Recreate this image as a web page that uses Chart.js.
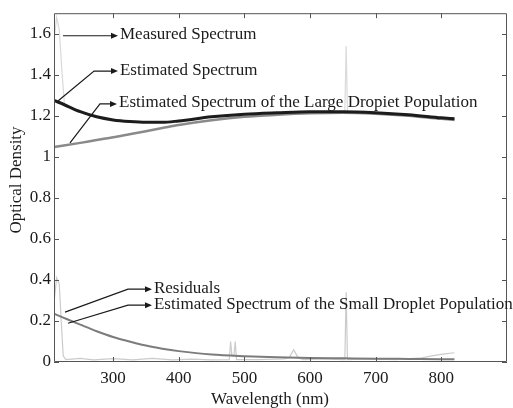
<!DOCTYPE html>
<html>
<head>
<meta charset="utf-8">
<script src="https://cdn.jsdelivr.net/npm/chart.js@4/dist/chart.umd.min.js"></script>
<style>
  html, body { margin: 0; padding: 0; background: #ffffff; }
  #plot { display: block; }
</style>
</head>
<body>
<canvas id="plot" width="513" height="408"></canvas>
<script>
// Wavelength grid (nm) for the smooth fitted curves
const wavelengths = [210, 225, 250, 275, 300, 325, 350, 375, 400, 450, 500, 550, 600, 650, 700, 750, 800, 820];
const estimated = [1.275, 1.255, 1.22, 1.195, 1.18, 1.172, 1.168, 1.168, 1.175, 1.195, 1.208, 1.215, 1.22, 1.22, 1.215, 1.205, 1.19, 1.185];
const largeDroplets = [1.048, 1.055, 1.068, 1.082, 1.095, 1.11, 1.125, 1.14, 1.155, 1.178, 1.195, 1.205, 1.212, 1.215, 1.21, 1.2, 1.185, 1.18];
const smallDroplets = [0.235, 0.215, 0.182, 0.15, 0.122, 0.1, 0.08, 0.065, 0.053, 0.036, 0.028, 0.023, 0.02, 0.018, 0.016, 0.015, 0.014, 0.014];

// Measured spectrum (nm, optical density)
const measuredNm = [210, 214, 218, 222, 226, 250, 275, 300, 325, 350, 375, 400, 450, 500, 550, 600, 650, 653, 655, 657, 700, 750, 800, 820];
const measured = [1.56, 1.68, 1.62, 1.42, 1.255, 1.222, 1.196, 1.181, 1.173, 1.168, 1.169, 1.176, 1.196, 1.209, 1.216, 1.221, 1.221, 1.22, 1.54, 1.22, 1.216, 1.206, 1.193, 1.19];

// Residuals (nm, optical density)
const residualNm = [210, 214, 218, 221, 224, 228, 250, 270, 300, 330, 360, 390, 420, 450, 477, 479, 481, 484, 486, 488, 520, 560, 568, 575, 582, 590, 620, 650, 653, 655, 657, 690, 730, 770, 790, 805, 820];
const residual = [0.29, 0.41, 0.38, 0.2, 0.03, 0.012, 0.018, 0.01, 0.016, 0.01, 0.018, 0.01, 0.014, 0.01, 0.012, 0.1, 0.03, 0.03, 0.1, 0.012, 0.012, 0.015, 0.02, 0.06, 0.02, 0.012, 0.015, 0.012, 0.012, 0.34, 0.012, 0.015, 0.012, 0.02, 0.032, 0.04, 0.045];

// Axis ticks
const xTicks = [300, 400, 500, 600, 700, 800];
const yTicks = [0, 0.2, 0.4, 0.6, 0.8, 1, 1.2, 1.4, 1.6];

// Callout labels: path in data units (nm, OD), arrow ends at the last point
const notes = [
  { text: 'Measured Spectrum', path: [[223.7, 1.59], [304.4, 1.59]] },
  { text: 'Estimated Spectrum', path: [[216, 1.272], [271, 1.418], [304.4, 1.418]] },
  { text: 'Estimated Spectrum of the Large Dropiet Population', path: [[234.4, 1.068], [280, 1.258], [302.9, 1.258]] },
  { text: 'Residuals', path: [[226.8, 0.243], [322.7, 0.355], [356.2, 0.355]] },
  { text: 'Estimated Spectrum of the Small Droplet Population', path: [[231.3, 0.189], [322.7, 0.277], [356.2, 0.277]] }
];

const SERIF = '"Liberation Serif", "Times New Roman", serif';
const FONT_SIZE = 17;
const pairs = (xs, ys) => xs.map((x, i) => ({ x: x, y: ys[i] }));

const frame = {
  id: 'frame',
  afterDraw(chart) {
    const ctx = chart.ctx;
    const a = chart.chartArea;
    const xs = chart.scales.x, ys = chart.scales.y;
    ctx.save();
    // box
    ctx.strokeStyle = '#555';
    ctx.lineWidth = 1;
    ctx.beginPath();
    ctx.moveTo(a.left + 0.5, a.top + 0.5);
    ctx.lineTo(a.right - 0.5, a.top + 0.5);
    ctx.lineTo(a.right - 0.5, a.bottom - 0.5);
    ctx.moveTo(a.left + 0.5, a.top + 0.5);
    ctx.lineTo(a.left + 0.5, a.bottom - 0.5);
    ctx.lineTo(a.right - 0.5, a.bottom - 0.5);
    ctx.stroke();
    // inward ticks on all four sides
    const t = 5;
    ctx.beginPath();
    xTicks.forEach(v => {
      const px = Math.round(xs.getPixelForValue(v)) + 0.5;
      ctx.moveTo(px, a.bottom); ctx.lineTo(px, a.bottom - t);
      ctx.moveTo(px, a.top); ctx.lineTo(px, a.top + t);
    });
    yTicks.forEach(v => {
      const py = Math.round(ys.getPixelForValue(v)) + 0.5;
      ctx.moveTo(a.left, py); ctx.lineTo(a.left + t, py);
      ctx.moveTo(a.right, py); ctx.lineTo(a.right - t, py);
    });
    ctx.stroke();

    // axis titles
    ctx.fillStyle = '#1a1a1a';
    ctx.font = FONT_SIZE + 'px ' + SERIF;
    ctx.textAlign = 'center';
    ctx.textBaseline = 'middle';
    ctx.fillText('Wavelength (nm)', 270, 400);
    ctx.save();
    ctx.translate(17, 180);
    ctx.rotate(-Math.PI / 2);
    ctx.fillText('Optical Density', 0, 0);
    ctx.restore();

    // callouts
    ctx.strokeStyle = '#1a1a1a';
    ctx.lineWidth = 1.2;
    ctx.textAlign = 'left';
    notes.forEach(n => {
      const pts = n.path.map(p => [xs.getPixelForValue(p[0]), ys.getPixelForValue(p[1])]);
      ctx.beginPath();
      pts.forEach((p, i) => (i ? ctx.lineTo(p[0], p[1]) : ctx.moveTo(p[0], p[1])));
      ctx.stroke();
      const end = pts[pts.length - 1];
      ctx.beginPath();
      ctx.moveTo(end[0] + 2, end[1]);
      ctx.lineTo(end[0] - 5, end[1] - 3);
      ctx.lineTo(end[0] - 5, end[1] + 3);
      ctx.closePath();
      ctx.fill();
      ctx.fillText(n.text, end[0] + 4, end[1] - 1);
    });
    ctx.restore();
  }
};

new Chart(document.getElementById('plot'), {
  type: 'line',
  data: {
    datasets: [
      { label: 'Estimated Spectrum', data: pairs(wavelengths, estimated), borderColor: '#1c1c1c', borderWidth: 3, cubicInterpolationMode: 'monotone' },
      { label: 'Large Droplet Population', data: pairs(wavelengths, largeDroplets), borderColor: '#8a8a8a', borderWidth: 2.5, cubicInterpolationMode: 'monotone' },
      { label: 'Small Droplet Population', data: pairs(wavelengths, smallDroplets), borderColor: '#7c7c7c', borderWidth: 2, cubicInterpolationMode: 'monotone' },
      { label: 'Residuals', data: pairs(residualNm, residual), borderColor: '#cbcbcb', borderWidth: 1.2, tension: 0 },
      { label: 'Measured Spectrum', data: pairs(measuredNm, measured), borderColor: '#dadada', borderWidth: 1.2, tension: 0 }
    ]
  },
  options: {
    responsive: false,
    animation: false,
    devicePixelRatio: 1,
    layout: { padding: { top: 12, right: 6, left: 0, bottom: 0 } },
    elements: { point: { radius: 0 }, line: { fill: false } },
    plugins: { legend: { display: false }, tooltip: { enabled: false } },
    scales: {
      x: {
        type: 'linear',
        min: 210,
        max: 900,
        afterBuildTicks: s => { s.ticks = xTicks.map(v => ({ value: v })); },
        afterFit: s => { s.height = 46; },
        grid: { drawOnChartArea: false, drawTicks: false },
        border: { display: false },
        ticks: { padding: 6, color: '#1a1a1a', font: { family: SERIF, size: FONT_SIZE }, maxRotation: 0 }
      },
      y: {
        type: 'linear',
        min: 0,
        max: 1.7,
        afterBuildTicks: s => { s.ticks = yTicks.map(v => ({ value: v })); },
        afterFit: s => { s.width = 54; },
        grid: { drawOnChartArea: false, drawTicks: false },
        border: { display: false },
        ticks: { padding: 3, color: '#1a1a1a', font: { family: SERIF, size: FONT_SIZE }, callback: v => String(Math.round(v * 10) / 10) }
      }
    }
  },
  plugins: [frame]
});
</script>
</body>
</html>
